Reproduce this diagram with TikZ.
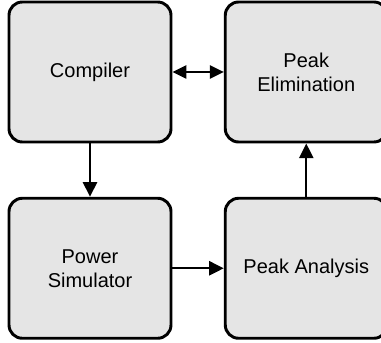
\documentclass[tikz,border=0pt]{standalone}
\usepackage{fontspec}
\setmainfont{Liberation Sans}
\usetikzlibrary{arrows.meta,positioning}

\tikzset{
    stage/.style={draw=black,line width=2.2pt,fill=black!10,rounded corners=10pt,
                  minimum width=121.5pt,minimum height=105pt,align=center,
                  font=\fontsize{15}{18}\selectfont},
    flow/.style={line width=1.8pt,-{Triangle[length=11pt,width=10.5pt]}},
    both/.style={line width=1.1pt,{Triangle[length=10.5pt,width=10pt]}-{Triangle[length=10.5pt,width=10pt]}}
}

\begin{document}
\begin{tikzpicture}[x=0.75pt,y=0.75pt]

% page size
\useasboundingbox (0,0) rectangle (381,342);

% the four stages
\node[stage] (compiler) at (90,270) {Compiler};
\node[stage,right=38.5pt of compiler] (elim) {Peak\\Elimination};
\node[stage,below=40pt of compiler] (sim) {Power\\Simulator};
\node[stage,below=40pt of elim] (analysis) {Peak Analysis};

% connections
\draw[both] (compiler) -- (elim);
\draw[flow] (compiler) -- (sim);
\draw[flow] (sim) -- (analysis);
\draw[flow] (analysis) -- (elim);

\end{tikzpicture}
\end{document}
